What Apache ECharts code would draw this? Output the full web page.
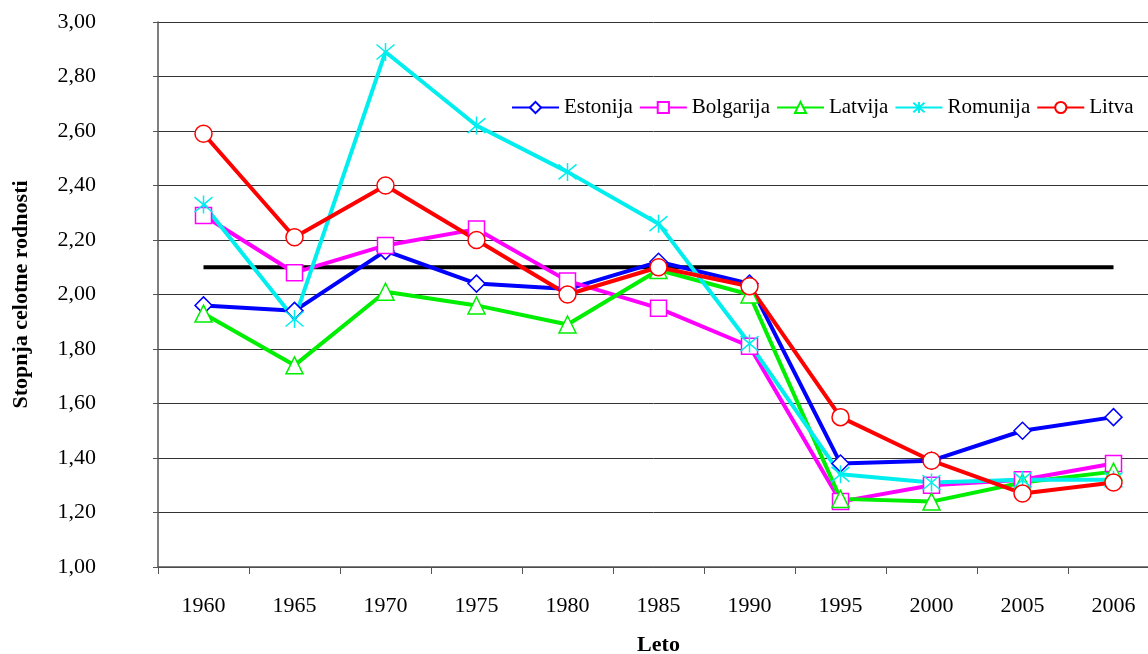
<!DOCTYPE html>
<html>
<head>
<meta charset="utf-8">
<script src="https://cdn.jsdelivr.net/npm/echarts@6/dist/echarts.min.js"></script>
<style>
  html, body { margin: 0; padding: 0; background: #fff; }
  #chart1 { width: 1148px; height: 654px; }
</style>
</head>
<body>
<div id="chart1"></div>
<script>
// data
const years = ['1960', '1965', '1970', '1975', '1980', '1985', '1990', '1995', '2000', '2005', '2006'];
const estonija = [1.96, 1.94, 2.16, 2.04, 2.02, 2.12, 2.04, 1.38, 1.39, 1.50, 1.55];
const bolgarija = [2.29, 2.08, 2.18, 2.24, 2.05, 1.95, 1.81, 1.24, 1.30, 1.32, 1.38];
const latvija = [1.93, 1.74, 2.01, 1.96, 1.89, 2.09, 2.00, 1.25, 1.24, 1.31, 1.35];
const romunija = [2.33, 1.91, 2.89, 2.62, 2.45, 2.26, 1.82, 1.34, 1.31, 1.32, 1.32];
const litva = [2.59, 2.21, 2.40, 2.20, 2.00, 2.10, 2.03, 1.55, 1.39, 1.27, 1.31];
const replacement = [2.10, 2.10, 2.10, 2.10, 2.10, 2.10, 2.10, 2.10, 2.10, 2.10, 2.10];
const yTicks = ['1,00', '1,20', '1,40', '1,60', '1,80', '2,00', '2,20', '2,40', '2,60', '2,80', '3,00'];

const fontName = '"Liberation Serif", "Times New Roman", serif';
const asterisk = 'path://M0,0L10,10M10,0L0,10M5,-1L5,11';

function countrySeries(name, data, color, symbol, size) {
    return {
        name: name,
        type: 'line',
        data: data,
        symbol: symbol,
        symbolSize: size,
        showAllSymbol: true,
        lineStyle: { color: color, width: 4 },
        itemStyle: { color: '#fff', borderColor: color, borderWidth: 1.5 },
        emphasis: { disabled: true }
    };
}

let dom1 = document.getElementById('chart1');
let Chart1 = echarts.init(dom1);

let option1 = {
    animation: false,
    textStyle: { fontFamily: fontName },
    legend: {
        data: ['Estonija', 'Bolgarija', 'Latvija', 'Romunija', 'Litva'],
        left: 506,
        top: 92,
        width: 640,
        itemWidth: 47,
        itemHeight: 14,
        itemGap: 6,
        textStyle: { fontFamily: fontName, fontSize: 21, color: '#000' }
    },
    grid: {
        left: 158,
        width: 1001,
        top: 22,
        bottom: 87,
        outerBoundsMode: 'none',
        containLabel: false
    },
    xAxis: {
        type: 'category',
        data: years,
        boundaryGap: true,
        name: 'Leto',
        nameLocation: 'middle',
        nameGap: 67,
        nameTextStyle: { fontFamily: fontName, fontSize: 22, fontWeight: 'bold', color: '#000' },
        axisLine: { lineStyle: { color: '#555', width: 1.5 } },
        axisTick: { show: true, alignWithLabel: false, length: 7, lineStyle: { color: '#555' } },
        axisLabel: { fontFamily: fontName, fontSize: 22, color: '#000', margin: 28 },
        splitLine: { show: false }
    },
    yAxis: {
        type: 'value',
        min: 1,
        max: 3,
        interval: 0.2,
        name: 'Stopnja celotne rodnosti',
        nameLocation: 'middle',
        nameGap: 126,
        nameTextStyle: { fontFamily: fontName, fontSize: 22, fontWeight: 'bold', color: '#000' },
        axisLine: { show: true, lineStyle: { color: '#555', width: 1.5 } },
        axisTick: { show: true, length: 5, lineStyle: { color: '#555' } },
        axisLabel: {
            fontFamily: fontName,
            fontSize: 22,
            color: '#000',
            margin: 62,
            formatter: function (v) {
                return yTicks[Math.round((v - 1) / 0.2)];
            }
        },
        splitLine: { lineStyle: { color: '#333', width: 1 } }
    },
    series: [
        {
            name: 'replacement',
            type: 'line',
            data: replacement,
            showSymbol: false,
            symbol: 'none',
            lineStyle: { color: '#000', width: 4 },
            emphasis: { disabled: true },
            z: 1
        },
        countrySeries('Estonija', estonija, '#0000ff', 'diamond', 17),
        countrySeries('Bolgarija', bolgarija, '#ff00ff', 'rect', 16),
        countrySeries('Latvija', latvija, '#00ee00', 'triangle', 17),
        countrySeries('Romunija', romunija, '#00eeee', asterisk, 18),
        countrySeries('Litva', litva, '#ff0000', 'circle', 17)
    ]
};

Chart1.setOption(option1);
</script>
</body>
</html>
